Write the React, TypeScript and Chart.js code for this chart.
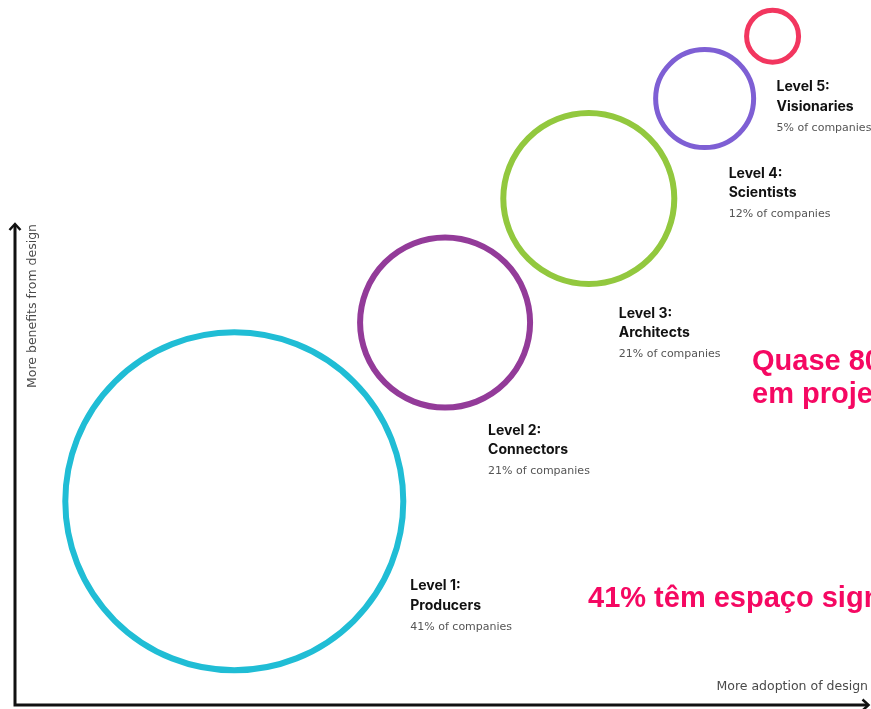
import React, { useEffect, useRef } from "react";
import { Chart, registerables } from "chart.js";

Chart.register(...registerables);

// ---- data ----
const levelTitles = ["Level 1:", "Level 2:", "Level 3:", "Level 4:", "Level 5:"];
const levelNames = ["Producers", "Connectors", "Architects", "Scientists", "Visionaries"];
const companyShare = [41, 21, 21, 12, 5];
const adoption = [26.9, 51.1, 67.6, 80.9, 88.7]; // x: more adoption of design
const benefit = [29.3, 54.5, 72.0, 86.1, 94.9]; // y: more benefits from design
const bubbleSize = [169, 85, 85.5, 49, 26];
const xAxisLabel = "More adoption of design";
const yAxisLabel = "More benefits from design";
const calloutTop = ["Quase 80%", "em projetos"];
const calloutBottom = "41% têm espaço significativo";

// ---- styles / layout ----
const colors = ["#20bdd5", "#933b99", "#92c83e", "#7e5fd4", "#f2365f"];
const borderWidths = [6, 6, 6, 5, 5];
const labelOffsets = [
  [176, 85],
  [43, 108],
  [30, 115],
  [24, 75],
  [4, 51],
];
const W = 871;
const H = 709;

const overlayPlugin = {
  id: "overlay",
  afterDatasetsDraw(chart: any) {
    const ctx = chart.ctx as CanvasRenderingContext2D;
    const xs = chart.scales.x;
    const ys = chart.scales.y;
    ctx.save();

    // axes with arrows
    ctx.strokeStyle = "#111";
    ctx.lineWidth = 3;
    ctx.lineCap = "butt";
    ctx.beginPath();
    ctx.moveTo(15, 706.5);
    ctx.lineTo(15, 225);
    ctx.moveTo(13.5, 705);
    ctx.lineTo(867, 705);
    ctx.stroke();
    ctx.lineWidth = 2.5;
    ctx.lineJoin = "miter";
    ctx.beginPath();
    ctx.moveTo(9.5, 230);
    ctx.lineTo(15, 224);
    ctx.lineTo(20.5, 230);
    ctx.moveTo(862.5, 699.5);
    ctx.lineTo(868.5, 705);
    ctx.lineTo(862.5, 710.5);
    ctx.stroke();

    // axis labels
    ctx.fillStyle = "#4a4a4a";
    ctx.font = "12.5px 'DejaVu Sans', sans-serif";
    ctx.textBaseline = "middle";
    ctx.textAlign = "right";
    ctx.fillText(xAxisLabel, 868, 687);
    ctx.save();
    ctx.translate(33, 306);
    ctx.rotate(-Math.PI / 2);
    ctx.textAlign = "center";
    ctx.fillText(yAxisLabel, 0, 0);
    ctx.restore();

    // bubble labels
    ctx.textAlign = "left";
    for (let i = 0; i < levelTitles.length; i++) {
      const px = xs.getPixelForValue(adoption[i]) + labelOffsets[i][0];
      const py = ys.getPixelForValue(benefit[i]) + labelOffsets[i][1];
      ctx.fillStyle = "#111";
      ctx.font = "bold 14px Inter, sans-serif";
      ctx.fillText(levelTitles[i], px, py);
      ctx.fillText(levelNames[i], px, py + 19.5);
      ctx.fillStyle = "#555";
      ctx.font = "11px 'DejaVu Sans', sans-serif";
      ctx.fillText(companyShare[i] + "% of companies", px, py + 40.5);
    }

    // red callouts
    ctx.fillStyle = "#f50862";
    ctx.font = "bold 29px 'Liberation Sans', Arial, sans-serif";
    ctx.textBaseline = "alphabetic";
    ctx.fillText(calloutTop[0], 752, 370);
    ctx.fillText(calloutTop[1], 752, 403);
    ctx.fillText(calloutBottom, 588, 607);
    ctx.restore();
  },
};

export default function App() {
  const ref = useRef<HTMLCanvasElement>(null);
  useEffect(() => {
    document.body.style.margin = "0";
    const canvas = ref.current;
    if (!canvas) return;
    const chart = new Chart(canvas, {
      type: "bubble",
      data: {
        datasets: [
          {
            data: adoption.map((x, i) => ({ x, y: benefit[i], r: bubbleSize[i] })),
            backgroundColor: "rgba(0,0,0,0)",
            borderColor: colors,
            borderWidth: borderWidths,
            clip: false as any,
          },
        ],
      },
      options: {
        responsive: false,
        animation: false,
        events: [],
        layout: { padding: 0, autoPadding: false },
        plugins: {
          legend: { display: false },
          tooltip: { enabled: false },
        },
        scales: {
          x: { type: "linear", min: 0, max: 100, display: false },
          y: { type: "linear", min: 0, max: 100, display: false },
        },
      },
      plugins: [overlayPlugin],
    });
    return () => chart.destroy();
  }, []);
  return (
    <div style={{ position: "fixed", left: 0, top: 0, width: W, height: H, background: "#fff" }}>
      <canvas ref={ref} width={W} height={H} style={{ width: W, height: H, display: "block" }} />
    </div>
  );
}
